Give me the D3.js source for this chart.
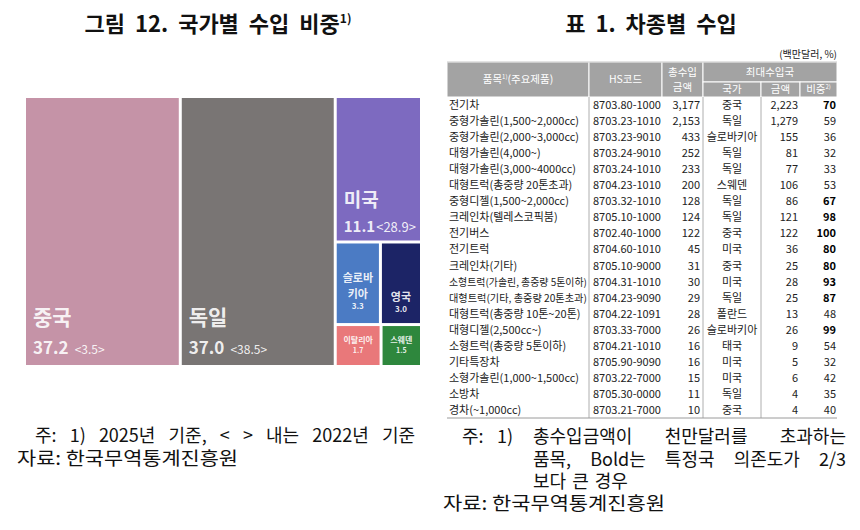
<!DOCTYPE html>
<html>
<head>
<meta charset="utf-8">
<script src="https://cdn.jsdelivr.net/npm/d3@7"></script>
<style>
  html, body { margin: 0; padding: 0; background: #fff; }
  svg { display: block; font-family: "Noto Sans CJK KR", "Noto Sans", sans-serif; }
</style>
</head>
<body>
<svg id="chart" width="860" height="530"></svg>
<script>
// ---- 그림 12: 국가별 수입 비중 (%) ----
const countries = ['중국', '독일', '미국', '슬로바키아', '영국', '이탈리아', '스웨덴'];
const share2025 = [37.2, 37.0, 11.1, 3.3, 3.0, 1.7, 1.5];
const share2022 = [3.5, 38.5, 28.9, null, null, null, null];
const boxColors = ['#c593a7', '#797574', '#7d6ac0', '#4b7bc4', '#1c2466', '#e9787a', '#2e873d'];

// ---- 표 1: 차종별 수입 (백만달러, %) ----
const items = [
  '전기차', '중형가솔린(1,500~2,000cc)', '중형가솔린(2,000~3,000cc)', '대형가솔린(4,000~)',
  '대형가솔린(3,000~4000cc)', '대형트럭(총중량 20톤초과)', '중형디젤(1,500~2,000cc)',
  '크레인차(텔레스코픽붐)', '전기버스', '전기트럭', '크레인차(기타)',
  '소형트럭(가솔린, 총중량 5톤이하)', '대형트럭(기타, 총중량 20톤초과)', '대형트럭(총중량 10톤~20톤)',
  '대형디젤(2,500cc~)', '소형트럭(총중량 5톤이하)', '기타특장차', '소형가솔린(1,000~1,500cc)',
  '소방차', '경차(~1,000cc)'
];
const hsCodes = [
  '8703.80-1000', '8703.23-1010', '8703.23-9010', '8703.24-9010', '8703.24-1010',
  '8704.23-1010', '8703.32-1010', '8705.10-1000', '8702.40-1000', '8704.60-1010',
  '8705.10-9000', '8704.31-1010', '8704.23-9090', '8704.22-1091', '8703.33-7000',
  '8704.21-1010', '8705.90-9090', '8703.22-7000', '8705.30-0000', '8703.21-7000'
];
const totalImports = [3177, 2153, 433, 252, 233, 200, 128, 124, 122, 45, 31, 30, 29, 28, 26, 16, 16, 15, 11, 10];
const topCountry = ['중국', '독일', '슬로바키아', '독일', '독일', '스웨덴', '독일', '독일', '중국', '미국',
  '중국', '미국', '독일', '폴란드', '슬로바키아', '태국', '미국', '미국', '독일', '중국'];
const topAmount = [2223, 1279, 155, 81, 77, 106, 86, 121, 122, 36, 25, 28, 25, 13, 26, 9, 5, 6, 4, 4];
const topShare = [70, 59, 36, 32, 33, 53, 67, 98, 100, 80, 80, 93, 87, 48, 99, 54, 32, 42, 35, 40];

const svg = d3.select('#chart');
const fmt = d3.format(',');

// ---------- titles ----------
const leftTitle = svg.append('text')
  .attr('x', 218).attr('y', 32)
  .attr('text-anchor', 'middle').attr('word-spacing', 5)
  .attr('font-size', 22).attr('font-weight', 700).attr('fill', '#111');
leftTitle.append('tspan').text('그림 12. 국가별 수입 비중');
leftTitle.append('tspan').attr('font-size', 12).attr('dy', -9).text('1)');

svg.append('text')
  .attr('x', 651).attr('y', 32)
  .attr('text-anchor', 'middle').attr('word-spacing', 5)
  .attr('font-size', 22).attr('font-weight', 700).attr('fill', '#111')
  .text('표 1. 차종별 수입');

// ---------- treemap ----------
const leaf = (i) => ({ name: countries[i], value: share2025[i], prev: share2022[i], color: boxColors[i] });
const treeData = {
  children: [
    leaf(0), leaf(1),
    { children: [
      leaf(2),
      { children: [
        { children: [leaf(3), leaf(4)] },
        { children: [leaf(5), leaf(6)] }
      ] }
    ] }
  ]
};

const root = d3.hierarchy(treeData).sum((d) => d.value || 0);

// depth 0 and 3 split left-right, depth 1 and 2 split top-bottom
function tile(node, x0, y0, x1, y1) {
  if (node.depth === 0 || node.depth === 3) d3.treemapDice(node, x0, y0, x1, y1);
  else d3.treemapSlice(node, x0, y0, x1, y1);
}

d3.treemap()
  .tile(tile)
  .size([394, 267])
  .paddingInner(3)(root);

const map = svg.append('g').attr('transform', 'translate(26,98)');
const cells = map.selectAll('g.cell')
  .data(root.leaves())
  .join('g')
  .attr('class', 'cell')
  .attr('transform', (d) => `translate(${d.x0},${d.y0})`);

cells.append('rect')
  .attr('width', (d) => d.x1 - d.x0)
  .attr('height', (d) => d.y1 - d.y0)
  .attr('fill', (d) => d.data.color);

cells.each(function (d) {
  const g = d3.select(this);
  const w = d.x1 - d.x0;
  const h = d.y1 - d.y0;
  const col = 'rgba(255,255,255,0.9)';
  if (d.value > 30) {
    g.append('text').attr('x', 7).attr('y', h - 40)
      .attr('font-size', 21).attr('font-weight', 700).attr('fill', col)
      .text(d.data.name);
    const t = g.append('text').attr('x', 7).attr('y', h - 11).attr('fill', col);
    t.append('tspan').attr('font-size', 17).attr('font-weight', 700).text(d.data.value.toFixed(1));
    t.append('tspan').attr('font-size', 12).attr('dx', 6).text(`<${d.data.prev}>`);
  } else if (d.value > 10) {
    g.append('text').attr('x', 7).attr('y', h - 33)
      .attr('font-size', 19).attr('font-weight', 700).attr('fill', col)
      .text(d.data.name);
    const t = g.append('text').attr('x', 7).attr('y', h - 8).attr('fill', col);
    t.append('tspan').attr('font-size', 15).attr('font-weight', 700).text(d.data.value.toFixed(1));
    t.append('tspan').attr('font-size', 13).attr('dx', 1).text(`<${d.data.prev}>`);
  } else if (d.value > 2.5) {
    const lines = d.data.name.length > 3 ? [d.data.name.slice(0, 3), d.data.name.slice(3)] : [d.data.name];
    const nameY = lines.length > 1 ? [39, 55] : [58];
    lines.forEach((ln, i) => {
      g.append('text').attr('x', w / 2).attr('y', nameY[i])
        .attr('text-anchor', 'middle')
        .attr('font-size', 11).attr('font-weight', 700).attr('fill', col)
        .text(ln);
    });
    g.append('text').attr('x', w / 2).attr('y', nameY[nameY.length - 1] + 11)
      .attr('text-anchor', 'middle')
      .attr('font-size', 8).attr('font-weight', 700).attr('fill', col)
      .text(d.data.value.toFixed(1));
  } else {
    g.append('text').attr('x', w / 2).attr('y', 17)
      .attr('text-anchor', 'middle')
      .attr('font-size', 8).attr('font-weight', 700).attr('fill', col)
      .text(d.data.name);
    g.append('text').attr('x', w / 2).attr('y', 27)
      .attr('text-anchor', 'middle')
      .attr('font-size', 7).attr('font-weight', 700).attr('fill', col)
      .text(d.data.value.toFixed(1));
  }
});

// ---------- note helpers ----------
const noteSize = 18;
function justify(words, x0, x1, y) {
  const g = svg.append('g');
  const nodes = words.map((w) => g.append('text').attr('y', y)
    .attr('font-size', noteSize).attr('fill', '#111').text(w));
  const widths = nodes.map((n) => n.node().getComputedTextLength());
  const gap = (x1 - x0 - d3.sum(widths)) / (words.length - 1);
  let x = x0;
  nodes.forEach((n, i) => { n.attr('x', x); x += widths[i] + gap; });
}
function note(x, y, txt, width) {
  const t = svg.append('text').attr('x', x).attr('y', y)
    .attr('font-size', noteSize).attr('fill', '#111').text(txt);
  if (width) t.attr('textLength', width).attr('lengthAdjust', 'spacingAndGlyphs');
  return t;
}

// left notes
justify(['주:', '1)', '2025년', '기준,', '<', '>', '내는', '2022년', '기준'], 35, 415, 442);
note(17, 465, '자료: 한국무역통계진흥원', 221);

// ---------- table ----------
const colX = [447, 589, 662, 703, 761, 800, 837];
const headTop = 62, headMid = 82, bodyTop = 97, bodyBottom = 418;
const headFill = '#a3a3a3';
const tbl = svg.append('g');

svg.append('text').attr('x', 837).attr('y', 58)
  .attr('text-anchor', 'end').attr('font-size', 10).attr('fill', '#222')
  .text('(백만달러, %)');

// header cells
const headCells = [
  [colX[0], headTop, colX[1], bodyTop],
  [colX[1], headTop, colX[2], bodyTop],
  [colX[2], headTop, colX[3], bodyTop],
  [colX[3], headTop, colX[6], headMid],
  [colX[3], headMid, colX[4], bodyTop],
  [colX[4], headMid, colX[5], bodyTop],
  [colX[5], headMid, colX[6], bodyTop]
];
tbl.selectAll('rect.head')
  .data(headCells)
  .join('rect')
  .attr('class', 'head')
  .attr('x', (d) => d[0]).attr('y', (d) => d[1])
  .attr('width', (d) => d[2] - d[0]).attr('height', (d) => d[3] - d[1])
  .attr('fill', headFill).attr('stroke', '#fff').attr('stroke-width', 1);
tbl.append('line').attr('x1', colX[0]).attr('x2', colX[6]).attr('y1', headTop).attr('y2', headTop)
  .attr('stroke', '#c8c8c8');

const headText = (x, y, txt, sup) => {
  const t = tbl.append('text').attr('x', x).attr('y', y).attr('text-anchor', 'middle')
    .attr('font-size', 10.5).attr('fill', '#fff');
  if (sup) {
    t.append('tspan').text(txt[0]);
    t.append('tspan').attr('font-size', 6).attr('dy', -4).text(sup);
    if (txt[1]) t.append('tspan').attr('dy', 4).text(txt[1]);
  } else t.text(txt);
};
headText((colX[0] + colX[1]) / 2, 83, ['품목', '(주요제품)'], '1)');
headText((colX[1] + colX[2]) / 2, 83, 'HS코드');
headText((colX[2] + colX[3]) / 2, 76, '총수입');
headText((colX[2] + colX[3]) / 2, 91, '금액');
headText((colX[3] + colX[6]) / 2, 76, '최대수입국');
headText((colX[3] + colX[4]) / 2, 93, '국가');
headText((colX[4] + colX[5]) / 2, 93, '금액');
headText((colX[5] + colX[6]) / 2, 93, ['비중'], '2)');

// body
const y = d3.scaleBand().domain(d3.range(items.length)).range([bodyTop, bodyBottom]);
const rows = tbl.selectAll('g.row')
  .data(items.map((name, i) => ({
    name, hs: hsCodes[i], total: totalImports[i], country: topCountry[i],
    amount: topAmount[i], share: topShare[i]
  })))
  .join('g')
  .attr('class', 'row')
  .attr('transform', (d, i) => `translate(0,${y(i) + y.bandwidth() / 2 + 4})`);

const bodyText = (sel) => sel.attr('font-size', 11).attr('fill', '#222');
rows.append('text').call(bodyText).attr('x', colX[0] + 2)
  .text((d) => d.name)
  .each(function () {
    const maxW = colX[1] - colX[0] - 4;
    const w = this.getComputedTextLength();
    if (w > maxW) d3.select(this).attr('font-size', 11 * maxW / w);
  });
rows.append('text').call(bodyText).attr('x', colX[1] + 4).text((d) => d.hs);
rows.append('text').call(bodyText).attr('x', colX[3] - 3).attr('text-anchor', 'end')
  .text((d) => fmt(d.total));
rows.append('text').call(bodyText).attr('x', (colX[3] + colX[4]) / 2).attr('text-anchor', 'middle')
  .text((d) => d.country);
rows.append('text').call(bodyText).attr('x', colX[5] - 2).attr('text-anchor', 'end')
  .text((d) => fmt(d.amount));
rows.append('text').call(bodyText).attr('x', colX[6] - 1).attr('text-anchor', 'end')
  .attr('font-weight', (d) => (d.share > 200 / 3 ? 700 : 400))
  .attr('fill', (d) => (d.share > 200 / 3 ? '#000' : '#222'))
  .text((d) => d.share);

// body grid lines
[colX[1], colX[3], colX[4]].forEach((x) => {
  tbl.append('line').attr('x1', x).attr('x2', x).attr('y1', bodyTop).attr('y2', bodyBottom)
    .attr('stroke', '#9a9a9a').attr('stroke-width', 0.8);
});
tbl.append('line').attr('x1', colX[0]).attr('x2', colX[6]).attr('y1', bodyBottom).attr('y2', bodyBottom)
  .attr('stroke', '#9a9a9a').attr('stroke-width', 1);

// right notes
note(462, 443, '주:');
note(497, 443, '1)');
justify(['총수입금액이', '천만달러를', '초과하는'], 533, 846, 443);
justify(['품목,', 'Bold는', '특정국', '의존도가', '2/3'], 533, 846, 466);
note(533, 488, '보다 큰 경우').attr('word-spacing', 2);
note(443, 510, '자료: 한국무역통계진흥원', 222);
</script>
</body>
</html>
